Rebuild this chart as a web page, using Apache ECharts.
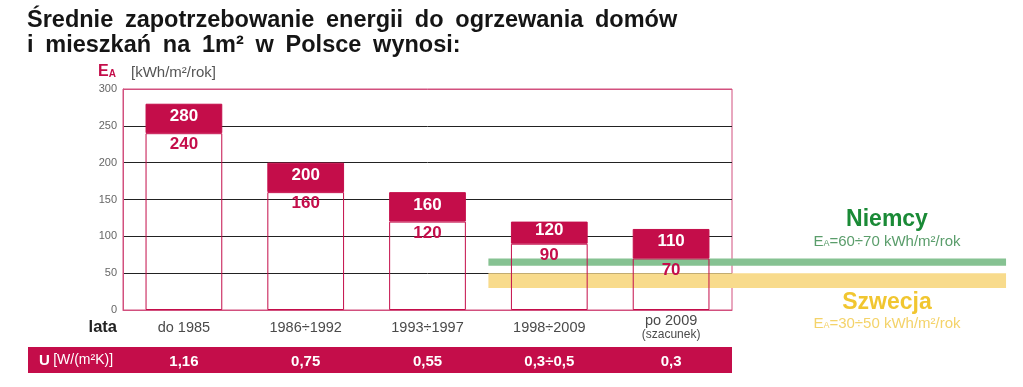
<!DOCTYPE html>
<html>
<head>
<meta charset="utf-8">
<script src="https://cdn.jsdelivr.net/npm/echarts@6/dist/echarts.min.js"></script>
<style>
html,body{margin:0;padding:0;background:#fff;}
#chart{width:1023px;height:387px;}
</style>
</head>
<body>
<div id="chart"></div>
<script>
const categories = ['do 1985', '1986÷1992', '1993÷1997', '1998÷2009', 'po 2009'];
const categoryNotes = ['', '', '', '', '(szacunek)'];
const upperValues = [280, 200, 160, 120, 110];
const lowerValues = [240, 160, 120, 90, 70];
const uValues = ['1,16', '0,75', '0,55', '0,3÷0,5', '0,3'];
const yMin = 0, yMax = 300, yStep = 50;
const bandGermany = { from: 60, to: 70, xStart: 2.5, xEnd: 6.75 };
const bandSweden = { from: 30, to: 50, xStart: 2.5, xEnd: 6.75 };

const CRIMSON = '#c40d4a';
const PINK = '#d2507e';
const FONT = '"Liberation Sans", Arial, sans-serif';
const SP = '\u2002';

const chart = echarts.init(document.getElementById('chart'), null, { renderer: 'canvas' });

const diffValues = upperValues.map((v, i) => v - lowerValues[i]);
const xLabels = categories.map((c, i) => categoryNotes[i] ? c + '\n{s|' + categoryNotes[i] + '}' : c);

const titleLines = ['Średnie zapotrzebowanie energii do ogrzewania domów', 'i mieszkań na 1m² w Polsce wynosi:'];

const option = {
  backgroundColor: '#fff',
  animation: false,
  textStyle: { fontFamily: FONT },
  title: {
    text: titleLines.map(l => l.split(' ').join(SP)).join('\n'),
    left: 22, top: 3,
    textStyle: { fontSize: 23.5, fontWeight: 'bold', color: '#151515', lineHeight: 25, fontFamily: FONT }
  },
  grid: { left: 123, right: 291, top: 89, bottom: 77, show: true, borderColor: PINK, borderWidth: 1, backgroundColor: 'transparent' },
  xAxis: [
    {
      type: 'category', data: xLabels, position: 'bottom',
      axisLine: { show: true, lineStyle: { color: PINK } },
      axisTick: { show: false },
      axisLabel: {
        color: '#4a4a4a', fontSize: 14.5, margin: 18, verticalAlign: 'middle', lineHeight: 14, fontFamily: FONT,
        rich: { s: { fontSize: 12, color: '#4a4a4a', lineHeight: 14 } }
      }
    },
    { type: 'value', min: -0.5, max: 4.5, show: false },
    {
      type: 'category', data: uValues, position: 'bottom', offset: 52,
      axisLine: { show: false }, axisTick: { show: false },
      axisLabel: { color: '#fff', fontSize: 15, fontWeight: 'bold', margin: 0, verticalAlign: 'middle', fontFamily: FONT }
    }
  ],
  yAxis: {
    type: 'value', min: yMin, max: yMax, interval: yStep,
    axisLine: { show: true, onZero: false, lineStyle: { color: PINK } },
    axisTick: { show: false },
    axisLabel: { color: '#666', fontSize: 11, margin: 6, fontFamily: FONT },
    splitLine: { show: true, lineStyle: { color: [PINK, '#222', '#222', '#222', '#222', '#222', PINK], width: 1 } }
  },
  graphic: [
    {
      type: 'text', left: 98, top: 64, z: 100,
      style: {
        text: '{e|E}{a|A}',
        rich: {
          e: { fontSize: 16, fontWeight: 'bold', fill: CRIMSON, fontFamily: FONT },
          a: { fontSize: 10, fontWeight: 'bold', fill: CRIMSON, fontFamily: FONT, padding: [4, 0, 0, 0] }
        }
      }
    },
    {
      type: 'text', left: 131, top: 65, z: 100,
      style: { text: '[kWh/m²/rok]', fontSize: 15, fill: '#555', fontFamily: FONT }
    },
    {
      type: 'text', right: 1023 - 117, top: 319, z: 100,
      style: { text: 'lata', fontSize: 16.5, fontWeight: 'bold', fill: '#222', fontFamily: FONT }
    },
    {
      type: 'rect', shape: { x: 28, y: 347, width: 704, height: 26 }, z: 0,
      style: { fill: CRIMSON }
    },
    {
      type: 'text', left: 39, top: 353, z: 100,
      style: {
        text: '{b|U} {r|[W/(m²K)]}',
        rich: {
          b: { fontSize: 15, fontWeight: 'bold', fill: '#fff', fontFamily: FONT },
          r: { fontSize: 14, fill: '#fff', fontFamily: FONT }
        }
      }
    },
    {
      type: 'text', x: 887, y: 220, z: 100,
      style: { text: 'Niemcy', fontSize: 23, fontWeight: 'bold', fill: '#1a8a36', align: 'center', verticalAlign: 'middle', fontFamily: FONT }
    },
    {
      type: 'text', x: 887, y: 242, z: 100,
      style: {
        text: '{e|E}{a|A}{t|=60÷70 kWh/m²/rok}', align: 'center', verticalAlign: 'middle',
        rich: {
          e: { fontSize: 15, fill: '#5a9d6b', fontFamily: FONT },
          a: { fontSize: 9, fill: '#5a9d6b', fontFamily: FONT, padding: [4, 0, 0, 0] },
          t: { fontSize: 15, fill: '#5a9d6b', fontFamily: FONT }
        }
      }
    },
    {
      type: 'text', x: 887, y: 303, z: 100,
      style: { text: 'Szwecja', fontSize: 23, fontWeight: 'bold', fill: '#f1c630', align: 'center', verticalAlign: 'middle', fontFamily: FONT }
    },
    {
      type: 'text', x: 887, y: 324, z: 100,
      style: {
        text: '{e|E}{a|A}{t|=30÷50 kWh/m²/rok}', align: 'center', verticalAlign: 'middle',
        rich: {
          e: { fontSize: 15, fill: '#f4d36a', fontFamily: FONT },
          a: { fontSize: 9, fill: '#f4d36a', fontFamily: FONT, padding: [4, 0, 0, 0] },
          t: { fontSize: 15, fill: '#f4d36a', fontFamily: FONT }
        }
      }
    }
  ],
  series: [
    {
      type: 'custom', xAxisIndex: 1, yAxisIndex: 0, clip: false, z: 1, silent: true,
      data: [
        [bandGermany.xStart, bandGermany.xEnd, bandGermany.from, bandGermany.to, 0],
        [bandSweden.xStart, bandSweden.xEnd, bandSweden.from, bandSweden.to, 1]
      ],
      renderItem: function (params, api) {
        const p1 = api.coord([api.value(0), api.value(3)]);
        const p2 = api.coord([api.value(1), api.value(2)]);
        const colors = ['#86c292', '#f8db8c'];
        return {
          type: 'rect',
          shape: { x: p1[0], y: p1[1], width: p2[0] - p1[0], height: p2[1] - p1[1] },
          style: { fill: colors[api.value(4)] }
        };
      }
    },
    {
      type: 'bar', name: 'lower', stack: 'e', xAxisIndex: 0, data: lowerValues, barWidth: '63%', z: 3,
      itemStyle: { color: 'rgba(255,255,255,0)', borderColor: CRIMSON, borderWidth: 1 },
      label: {
        show: true, position: 'insideTop', distance: 3, color: CRIMSON, fontSize: 17, fontWeight: 'bold', fontFamily: FONT,
        formatter: p => lowerValues[p.dataIndex]
      }
    },
    {
      type: 'bar', name: 'upper', stack: 'e', xAxisIndex: 0, data: diffValues, barWidth: '63%', z: 3,
      itemStyle: { color: CRIMSON, borderColor: CRIMSON, borderWidth: 1 },
      label: {
        show: true, position: 'inside', offset: [0, -2], color: '#fff', fontSize: 17, fontWeight: 'bold', fontFamily: FONT,
        formatter: p => upperValues[p.dataIndex]
      }
    }
  ]
};
chart.setOption(option);
</script>
</body>
</html>
